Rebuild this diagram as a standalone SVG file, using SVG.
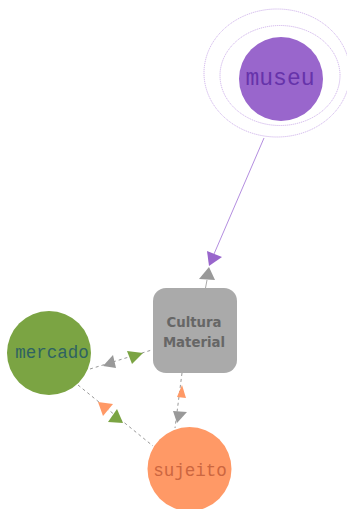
<svg xmlns="http://www.w3.org/2000/svg" width="347" height="509" viewBox="0 0 347 509">
<style>
.ring{fill:none;stroke:#c4a2e6;stroke-width:0.8;stroke-dasharray:1.2 0.8}
.mono{font-family:"Liberation Mono","DejaVu Sans Mono",monospace;text-anchor:middle}
.bold{font-family:"DejaVu Sans",sans-serif;font-weight:bold;font-size:13.3px;fill:#666;text-anchor:middle}
.dash{fill:none;stroke:#999;stroke-width:1;stroke-dasharray:3 3}
.solidp{fill:none;stroke:#b48ee0;stroke-width:1}
.solidg{fill:none;stroke:#aaa;stroke-width:1}
.ap{fill:#9966cc}.ag{fill:#999}.agr{fill:#7ba443}.ao{fill:#ff9966}
</style>
<rect width="347" height="509" fill="#fff"/>
<g id="connectors">
<line class="solidp" x1="264" y1="138" x2="214" y2="254"/>
<line class="solidg" x1="205.5" y1="288" x2="207" y2="280"/>
<polygon class="ap" points="207,251 222,257 209,266"/>
<polygon class="ag" points="209,267 199,279 215,280"/>
<line class="dash" x1="90" y1="369" x2="155" y2="349"/>
<polygon class="ag" points="103,366 113,355 116,368"/>
<polygon class="agr" points="127,351 143,353 132,364"/>
<line class="dash" x1="78" y1="385" x2="153" y2="446"/>
<polygon class="ao" points="98,402 113,404 103,416"/>
<polygon class="agr" points="108,422 117,409 123,423"/>
<line class="dash" x1="182" y1="373" x2="175" y2="428"/>
<polygon class="ao" points="177,397 182,385 186,398"/>
<polygon class="ag" points="173,411 187,412 177,423"/>
</g>
<g id="museu">
<ellipse class="ring" cx="277" cy="73" rx="73" ry="64"/>
<ellipse class="ring" cx="280" cy="75.5" rx="60" ry="50"/>
<circle cx="281" cy="79" r="42" fill="#9966cc"/>
<text class="mono" x="280" y="84.5" font-size="23" fill="#6633aa">museu</text>
</g>
<g id="cultura">
<rect x="153" y="288" width="84" height="85" rx="13" fill="#aaa"/>
<text class="bold" x="194" y="327">Cultura</text>
<text class="bold" x="194" y="347">Material</text>
</g>
<g id="mercado">
<circle cx="49" cy="353" r="42" fill="#7ba443"/>
<text class="mono" x="52" y="358" font-size="17.5" fill="#2f6262">mercado</text>
</g>
<g id="sujeito">
<circle cx="189.5" cy="469" r="42" fill="#ff9966"/>
<text class="mono" x="190" y="476" font-size="17.5" fill="#cc6640">sujeito</text>
</g>
</svg>
